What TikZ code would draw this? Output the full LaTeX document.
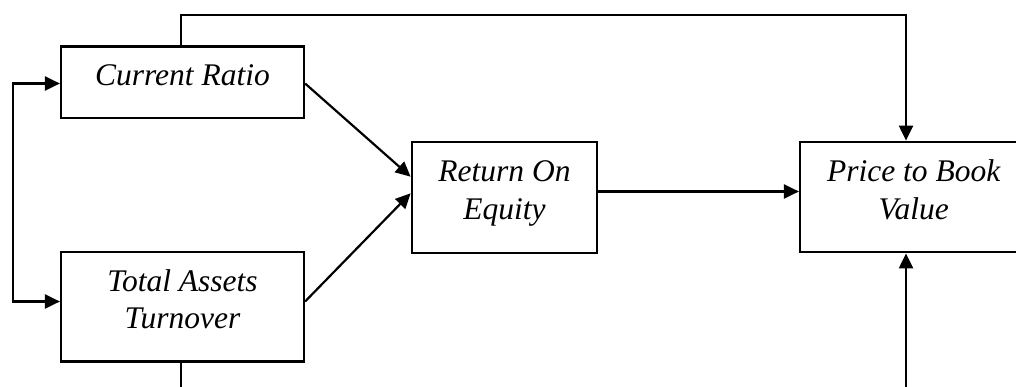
\documentclass[tikz,border=0pt]{standalone}
\usepackage{fontspec}
\setmainfont{Liberation Serif}
\usetikzlibrary{arrows.meta,calc}
\begin{document}
\begin{tikzpicture}[x=1pt,y=-1pt,
  box/.style={draw,line width=2.2pt,inner sep=0pt},
  lbl/.style={anchor=base,align=center,inner sep=0pt,font=\itshape\fontsize{31.5}{37.5}\selectfont},
  con/.style={line width=2.2pt},
  arr/.style={con,-{Triangle[length=15pt,width=14pt]}},
  darr/.style={con,{Triangle[length=15pt,width=14pt]}-{Triangle[length=15pt,width=14pt]}}]
\useasboundingbox (0,0) rectangle (1016,387);
% boxes
\node[box,minimum width=243pt,minimum height=71.5pt] (crbox) at (182.5,82.25) {};
\node[box,minimum width=243pt,minimum height=109.8pt] (tabox) at (182.5,306.6) {};
\node[box,minimum width=185.6pt,minimum height=111pt] (roebox) at (504.5,197.2) {};
\node[box,minimum width=227.4pt,minimum height=110.6pt] (pbbox) at (913.7,197) {};
% labels (base = baseline of the last line)
\node[lbl] (cr) at (182.5,86) {Current Ratio};
\node[lbl] (ta) at (182.5,328.5) {Total Assets\\Turnover};
\node[lbl] (roe) at (504.5,219.3) {Return On\\Equity};
\node[lbl] (pb) at (913.7,219.2) {Price to Book\\Value};
% helper coordinates
\coordinate (cry) at (0,83.5);
\coordinate (tay) at (0,301.5);
\coordinate (L) at (12.7,190);
\coordinate (r1) at (0,176.7);
\coordinate (r2) at (0,193.3);
\coordinate (my) at (0,191.5);
\coordinate (tl) at (180.7,15);
\coordinate (tr) at (906,15);
\coordinate (bl) at (180.7,400);
\coordinate (br) at (906,400);
% connectors
\draw[darr] (crbox.west |- cry) -| (L) |- (tabox.west |- tay);
\draw[arr] (crbox.east |- cry) -- (roebox.west |- r1);
\draw[arr] (tabox.east |- tay) -- (roebox.west |- r2);
\draw[arr] (roebox.east |- my) -- (pbbox.west |- my);
\draw[arr] (crbox.north -| tl) -- (tl) -- (tr) -- (pbbox.north -| tr);
\draw[arr] (tabox.south -| bl) -- (bl) -- (br) -- (pbbox.south -| br);
\end{tikzpicture}
\end{document}
